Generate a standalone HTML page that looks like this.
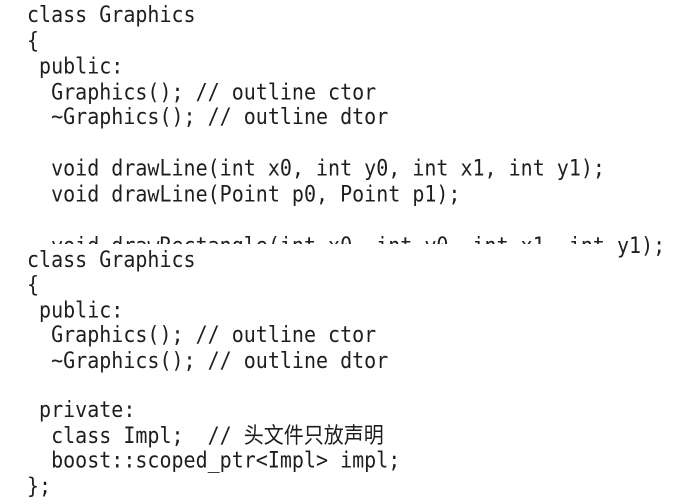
<!DOCTYPE html>
<html><head><meta charset="utf-8"><style>
html,body{margin:0;padding:0;background:#fff;}
body{width:687px;height:497px;position:relative;overflow:hidden;}
pre{margin:0;position:absolute;left:27px;font-family:"DejaVu Sans Mono","Noto Sans CJK SC",monospace;font-size:20px;color:#1e1e1e;transform:scaleY(1.12);transform-origin:0 0;}
#a{top:2px;line-height:22.86px;}
#cover{position:absolute;left:0;top:244px;width:608px;height:260px;background:#fff;}
#b{top:247px;line-height:22.4px;}
</style></head><body>
<pre id="a">class Graphics
{
 public:
  Graphics(); // outline ctor
  ~Graphics(); // outline dtor

  void drawLine(int x0, int y0, int x1, int y1);
  void drawLine(Point p0, Point p1);

  void drawRectangle(int x0, int y0, int x1, int y1);</pre>
<div id="cover"></div>
<pre id="b">class Graphics
{
 public:
  Graphics(); // outline ctor
  ~Graphics(); // outline dtor

 private:
  class Impl;  // 头文件只放声明
  boost::scoped_ptr&lt;Impl&gt; impl;
};</pre>
</body></html>
